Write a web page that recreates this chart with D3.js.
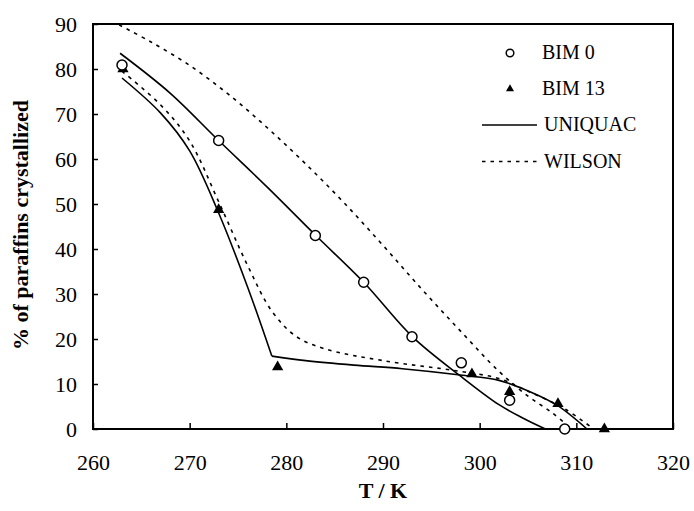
<!DOCTYPE html>
<html>
<head>
<meta charset="utf-8">
<script src="https://cdn.jsdelivr.net/npm/d3@7"></script>
<style>
  body { margin: 0; background: #fff; }
  svg text { font-family: "Liberation Serif", "Times New Roman", "DejaVu Serif", serif; fill: #000; }
</style>
</head>
<body>
<svg width="694" height="511"></svg>
<script>
(function() {
  // tick labels
  var tempTicks = [260, 270, 280, 290, 300, 310, 320];
  var pctTicks = [0, 10, 20, 30, 40, 50, 60, 70, 80, 90];

  // experimental points
  var bim0T = [263, 273, 283, 288, 293, 298.1, 303.1, 308.8];
  var bim0P = [80.9, 64.1, 43.0, 32.6, 20.5, 14.7, 6.4, 0];
  var bim13T = [263.1, 273, 279.1, 299.2, 303.1, 308.1, 312.9];
  var bim13P = [80, 48.7, 13.8, 12.2, 8.3, 5.6, 0];

  // model curves
  var uniquac0T = [262.8, 268, 273, 278, 283, 288, 293, 298, 302, 304.5, 306.8];
  var uniquac0P = [83.5, 74.6, 64.1, 53.8, 43.1, 32.6, 20.6, 11.8, 5.4, 2.4, 0];

  var wilson0T = [262.7, 266, 270, 274, 278, 282, 286, 290, 294, 298, 302, 305, 307.5, 309.5];
  var wilson0P = [89.8, 86.0, 80.8, 74.4, 67.0, 58.9, 50.2, 40.8, 31.1, 21.8, 12.8, 7.3, 3.6, 0];

  var uniquac13T = [263, 267, 270, 273, 276, 278.5, 282, 287, 292, 298, 302, 305.2, 308, 311.1];
  var uniquac13P = [78, 70.2, 61.8, 48, 31.5, 16.2, 15.2, 14.2, 13.4, 12.0, 10.8, 8.3, 5.3, 0];
  var uniquac13Kink = 278.5;

  var wilson13T = [263, 267, 270, 273, 276, 278.5, 281, 284, 290, 298, 302, 305, 308.7, 311.8];
  var wilson13P = [79.5, 72, 64, 50.5, 36.3, 26.2, 20.6, 17.8, 15.2, 12.8, 11.2, 8.4, 4.6, 0];

  var legendLabels = ["BIM 0", "BIM 13", "UNIQUAC", "WILSON"];

  var serif = "'Liberation Serif', 'Times New Roman', 'DejaVu Serif', serif";

  var svg = d3.select("svg")
      .attr("font-family", serif);

  var x = d3.scaleLinear()
      .domain([260, 320])
      .range([93, 673]);

  var y = d3.scaleLinear()
      .domain([0, 90])
      .range([429, 24]);

  function zip(ts, ps) {
    return ts.map(function(t, i) { return [t, ps[i]]; });
  }

  var line = d3.line()
      .x(function(d) { return x(d[0]); })
      .y(function(d) { return y(d[1]); })
      .curve(d3.curveCatmullRom.alpha(0.5));

  // axes
  var xAxis = svg.append("g")
      .attr("transform", "translate(0," + y(0) + ")")
      .call(d3.axisBottom(x)
        .tickValues(tempTicks)
        .tickSize(-6)
        .tickPadding(25));

  var yAxis = svg.append("g")
      .attr("transform", "translate(" + x(260) + ",0)")
      .call(d3.axisLeft(y)
        .tickValues(pctTicks)
        .tickSize(-5)
        .tickPadding(16));

  [xAxis, yAxis].forEach(function(g) {
    g.select(".domain").remove();
    g.attr("font-family", serif).attr("font-size", null);
    g.selectAll("line").attr("stroke", "#000").attr("stroke-width", 1.5);
    g.selectAll("text").style("font-size", "22px").style("font-family", serif);
  });
  yAxis.selectAll("text").attr("dy", "0.33em");

  // frame
  svg.append("rect")
      .attr("x", x.range()[0])
      .attr("y", y.range()[1])
      .attr("width", x.range()[1] - x.range()[0])
      .attr("height", y.range()[0] - y.range()[1])
      .attr("fill", "none")
      .attr("stroke", "#000")
      .attr("stroke-width", 2);

  // curves
  var u13 = zip(uniquac13T, uniquac13P);
  var curves = [
    { data: zip(uniquac0T, uniquac0P), dash: null },
    { data: u13.filter(function(d) { return d[0] <= uniquac13Kink; }), dash: null },
    { data: u13.filter(function(d) { return d[0] >= uniquac13Kink; }), dash: null },
    { data: zip(wilson0T, wilson0P), dash: "3.5,5" },
    { data: zip(wilson13T, wilson13P), dash: "3.5,5" }
  ];

  svg.append("g")
    .selectAll("path")
    .data(curves)
    .enter().append("path")
      .attr("d", function(d) { return line(d.data); })
      .attr("fill", "none")
      .attr("stroke", "#000")
      .attr("stroke-width", 1.6)
      .attr("stroke-dasharray", function(d) { return d.dash; });

  // points
  svg.append("g")
    .selectAll("path")
    .data(zip(bim13T, bim13P))
    .enter().append("path")
      .attr("transform", function(d) { return "translate(" + x(d[0]) + "," + y(d[1]) + ")"; })
      .attr("d", d3.symbol().type(d3.symbolTriangle).size(55))
      .attr("fill", "#000");

  svg.append("g")
    .selectAll("circle")
    .data(zip(bim0T, bim0P))
    .enter().append("circle")
      .attr("cx", function(d) { return x(d[0]); })
      .attr("cy", function(d) { return y(d[1]); })
      .attr("r", 5)
      .attr("fill", "#fff")
      .attr("stroke", "#000")
      .attr("stroke-width", 1.5);

  // legend
  var lg = svg.append("g").attr("transform", "translate(482,0)");
  var rowY = [53, 89, 125, 161.5];

  lg.append("circle")
      .attr("cx", 28).attr("cy", rowY[0]).attr("r", 3.8)
      .attr("fill", "#fff").attr("stroke", "#000").attr("stroke-width", 1.5);
  lg.append("path")
      .attr("transform", "translate(28," + rowY[1] + ")")
      .attr("d", d3.symbol().type(d3.symbolTriangle).size(28))
      .attr("fill", "#000");
  lg.append("line")
      .attr("x1", 0).attr("x2", 55).attr("y1", rowY[2]).attr("y2", rowY[2])
      .attr("stroke", "#000").attr("stroke-width", 1.6);
  lg.append("line")
      .attr("x1", 0).attr("x2", 55).attr("y1", rowY[3]).attr("y2", rowY[3])
      .attr("stroke", "#000").attr("stroke-width", 1.6)
      .attr("stroke-dasharray", "3.5,5");

  lg.selectAll("text")
    .data(legendLabels)
    .enter().append("text")
      .attr("x", function(d, i) { return i < 2 ? 60 : 62; })
      .attr("y", function(d, i) { return rowY[i]; })
      .attr("dy", "0.3em")
      .style("font-size", "20px")
      .style("font-family", serif)
      .text(function(d) { return d; });

  // axis titles
  svg.append("text")
      .attr("x", (x.range()[0] + x.range()[1]) / 2)
      .attr("y", 498)
      .attr("text-anchor", "middle")
      .style("font-size", "22px")
      .style("font-weight", "bold")
      .style("font-family", serif)
      .text("T / K");

  svg.append("text")
      .attr("transform", "translate(28,225) rotate(-90)")
      .attr("text-anchor", "middle")
      .style("font-size", "22px")
      .style("font-weight", "bold")
      .style("font-family", serif)
      .text("% of paraffins crystallized");
})();
</script>
</body>
</html>
